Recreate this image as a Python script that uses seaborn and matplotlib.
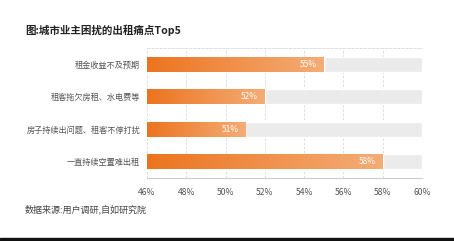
import numpy as np
import pandas as pd
import matplotlib
matplotlib.use("Agg")
import matplotlib.pyplot as plt
import seaborn as sns
from matplotlib.colors import LinearSegmentedColormap

categories = ["租金收益不及预期", "租客拖欠房租、水电费等", "房子持续出问题、租客不停打扰", "一直持续空置难出租"]
values = [55, 52, 51, 58]
value_labels = ["55%", "52%", "51%", "58%"]
xticks = [46, 48, 50, 52, 54, 56, 58, 60]
xtick_labels = ["46%", "48%", "50%", "52%", "54%", "56%", "58%", "60%"]
title = "图:城市业主困扰的出租痛点Top5"
source = "数据来源:用户调研,自如研究院"

sns.set_theme(style="white")
plt.rcParams['font.family'] = ['Noto Sans CJK SC', 'DejaVu Sans']

df = pd.DataFrame({"cat": categories, "val": values})
df_bg = pd.DataFrame({"cat": categories, "val": [xticks[-1]] * len(categories)})

fig = plt.figure(figsize=(4.54, 2.41), dpi=100)
ax = fig.add_axes([147 / 454, 1 - 178 / 241, (422 - 147) / 454, (178 - 48) / 241])

sns.barplot(data=df_bg, x="val", y="cat", color="#ebebeb", width=0.47, ax=ax, zorder=1)
n_bg = len(ax.patches)
sns.barplot(data=df, x="val", y="cat", color="#ee7a22", width=0.47, ax=ax, zorder=2)

ax.set_xlim(xticks[0], xticks[-1])
ax.set_ylim(len(categories) - 0.5, -0.5)

cmap = LinearSegmentedColormap.from_list("g", ["#ec7420", "#f4ad76"])
grad = np.linspace(0, 1, 256).reshape(1, -1)
for p in ax.patches[n_bg:]:
    x0 = xticks[0]
    x1 = p.get_x() + p.get_width()
    y0 = p.get_y()
    y1 = y0 + p.get_height()
    im = ax.imshow(grad, cmap=cmap, aspect="auto", extent=[x0, x1, y1, y0], zorder=3)
    im.set_clip_path(p)

for i, (v, lab) in enumerate(zip(values, value_labels)):
    ax.text(v - 0.35, i, lab, color="white", ha="right", va="center", fontsize=6, zorder=5)

ax.set_xticks(xticks)
ax.set_xticklabels(xtick_labels, fontsize=6.2, color="#555555")
ax.tick_params(axis="y", labelsize=5.9, colors="#555555", length=0, pad=5)
ax.tick_params(axis="x", length=0, pad=7)
ax.set_xlabel("")
ax.set_ylabel("")
ax.grid(axis="x", linestyle=(0, (3, 2)), color="#d9d9d9", linewidth=0.6, zorder=0)
ax.set_axisbelow(True)
for s in ["left", "right"]:
    ax.spines[s].set_visible(False)
ax.spines["top"].set_visible(True)
ax.spines["top"].set_linestyle((0, (3, 2)))
ax.spines["top"].set_color("#d9d9d9")
ax.spines["top"].set_linewidth(0.6)
ax.spines["bottom"].set_color("#cccccc")
ax.spines["bottom"].set_linewidth(0.8)

fig.text(25 / 454, 1 - 30 / 241, title, fontsize=7.6, fontweight="bold", color="#222222", va="center", ha="left")
fig.text(25 / 454, 1 - 209 / 241, source, fontsize=6.5, color="#444444", va="center", ha="left")

fig.add_artist(plt.Rectangle((0, 0), 1, 3 / 241, transform=fig.transFigure, color="#111111"))

fig.savefig("out.png", dpi=100)
